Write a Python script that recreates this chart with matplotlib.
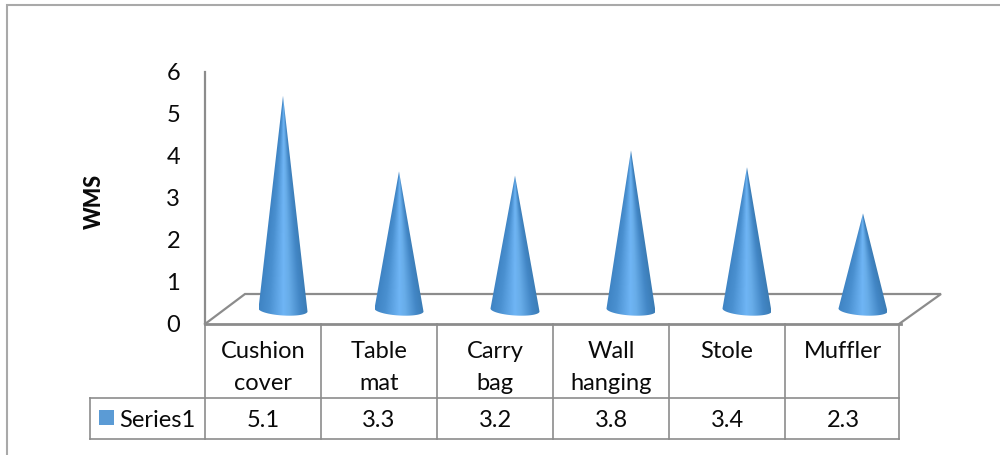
"""
3D-style cone chart of WMS scores per product, with a data table under the axis
"""

import numpy as np
import matplotlib
matplotlib.use("Agg")
import matplotlib.pyplot as plt
from matplotlib.colors import LinearSegmentedColormap
from matplotlib.patches import PathPatch, Rectangle
from matplotlib.path import Path

# Chart data
categories = ["Cushion\ncover", "Table\nmat", "Carry\nbag", "Wall\nhanging", "Stole", "Muffler"]
values = [5.1, 3.3, 3.2, 3.8, 3.4, 2.3]
y_ticks = [0, 1, 2, 3, 4, 5, 6]
series_name = "Series1"
y_label = "WMS"

W, H = 1000, 455
LINE = "#8c8c8c"
FRAME = "#a9a9a9"
TEXT = "#0a0a0a"
FONT_SIZE = 17

plt.rcParams["font.family"] = ["Lato", "DejaVu Sans"]

# Plot area geometry, in pixels
LEFT, RIGHT = 205, 901
TOP, BASE = 72, 324
DEPTH_X, DEPTH_Y = 40, 30
ROW1, ROW2 = 398, 439
LEGEND_LEFT = 90

fig = plt.figure(figsize=(W / 100, H / 100), dpi=100)

# Pixel-space layer for the frame, floor and table rules
px = fig.add_axes([0, 0, 1, 1])
px.set_xlim(0, W)
px.set_ylim(H, 0)
px.axis("off")

ax = fig.add_axes([LEFT / W, 1 - BASE / H, (RIGHT - LEFT) / W, (BASE - TOP) / H])
ax.patch.set_alpha(0)
ax.set_xlim(0, len(categories))
ax.set_ylim(0, 6)
for side in ["top", "right", "bottom"]:
    ax.spines[side].set_visible(False)
ax.spines["left"].set_color(LINE)
ax.spines["left"].set_linewidth(1.6)
ax.set_xticks([])
ax.set_yticks(y_ticks)
ax.tick_params(axis="y", length=0, pad=18, labelsize=FONT_SIZE, labelcolor=TEXT)
ax.set_ylabel(y_label, fontsize=15.5, fontweight="black", color=TEXT)
ax.yaxis.set_label_coords(-100 / (RIGHT - LEFT), 0.485)

# Outer chart frame
px.plot([7, 7, 1000], [H, 5, 5], color=FRAME, lw=1.5, solid_joinstyle="miter")

# Floor of the 3D box
floor_x = [LEFT, LEFT + DEPTH_X, RIGHT + DEPTH_X, RIGHT - 2]
floor_y = [BASE, BASE - DEPTH_Y, BASE - DEPTH_Y, BASE]
px.plot(floor_x, floor_y, color=LINE, lw=1.6, solid_joinstyle="miter")
px.plot([LEFT, RIGHT], [BASE, BASE], color=LINE, lw=2)

# Data table rules
col_w = (RIGHT - LEFT) / len(categories)
for i in range(len(categories) + 1):
    px.plot([LEFT + i * col_w - (2 if i == len(categories) else 0)] * 2, [BASE, ROW2],
            color=LINE, lw=1.2)
px.plot([LEGEND_LEFT, RIGHT - 2], [ROW1, ROW1], color=LINE, lw=1.2)
px.plot([LEGEND_LEFT, RIGHT - 2], [ROW2, ROW2], color=LINE, lw=1.2)
px.plot([LEGEND_LEFT, LEGEND_LEFT], [ROW1, ROW2], color=LINE, lw=1.2)

for i, (cat, val) in enumerate(zip(categories, values)):
    cx = LEFT + (i + 0.5) * col_w
    # category names sit on two fixed text lines
    for k, part in enumerate(cat.split("\n")):
        px.text(cx, 352 + 32 * k, part, ha="center", va="center", fontsize=FONT_SIZE, color=TEXT)
    px.text(cx, (ROW1 + ROW2) / 2 + 2, f"{val:.1f}", ha="center", va="center", fontsize=FONT_SIZE, color=TEXT)

# Legend key inside the table
px.add_patch(Rectangle((99, 410), 15, 15, facecolor="#5b9bd5", edgecolor="none"))
px.text(119, (ROW1 + ROW2) / 2 + 2, series_name, ha="left", va="center", fontsize=FONT_SIZE, color=TEXT)

# Cones: shading follows the cone width at each height, clipped to the outline
cone_cmap = LinearSegmentedColormap.from_list(
    "cone", [(0.0, "#3f84c4"), (0.2, "#4a90d0"), (0.5, "#6fb5f5"), (0.62, "#68ade9"),
             (0.85, "#4387c6"), (1.0, "#3b7cb5")])

off_x = (DEPTH_X / 2) / col_w
off_y = 14 / ((BASE - TOP) / 6)
half_w = 24.5 / col_w
ell_h = 5.5 / ((BASE - TOP) / 6)
tilt = 1.5 / ((BASE - TOP) / 6)

for i, val in enumerate(values):
    cx = i + 0.5 + off_x
    t = np.linspace(0, np.pi, 40)
    # front half of the base ellipse, slightly tilted
    bx = cx - half_w * np.cos(t)
    by = off_y - ell_h * np.sin(t) + tilt * np.cos(t)
    verts = [(cx, off_y + val)] + list(zip(bx, by)) + [(cx, off_y + val)]
    codes = [Path.MOVETO] + [Path.LINETO] * (len(verts) - 2) + [Path.CLOSEPOLY]
    clip = PathPatch(Path(verts, codes), transform=ax.transData, facecolor="none", edgecolor="none")
    ax.add_patch(clip)

    bottom = off_y - ell_h - tilt
    top = off_y + val
    u = np.linspace(-1, 1, 200)
    v = np.linspace(0, 1, 400)  # 0 at the tip, 1 at the base plane
    uu, vv = np.meshgrid(u, v)
    stretch = (top - bottom) / val
    shade = 0.5 + 0.5 * uu / np.maximum(vv * stretch, 0.004)
    im = ax.imshow(np.clip(shade, 0, 1), cmap=cone_cmap, vmin=0, vmax=1, aspect="auto", zorder=3,
                   extent=[cx - half_w, cx + half_w, bottom, top], origin="upper")
    im.set_clip_path(clip)

ax.set_xlim(0, len(categories))
ax.set_ylim(0, 6)

fig.savefig("out.png", dpi=100)
